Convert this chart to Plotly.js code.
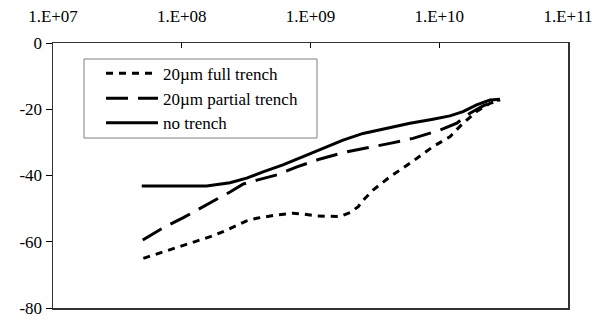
<!DOCTYPE html>
<html><head><meta charset="utf-8">
<script src="https://cdn.plot.ly/plotly-3.0.1.min.js"></script>
<style>html,body{margin:0;padding:0;background:#fff}#chart{width:604px;height:320px}
#warm{position:absolute;left:0;top:0;visibility:hidden;font-family:'Liberation Serif';font-size:17px}</style>
</head><body><div id="warm">1.E+07 20µm full trench</div><div id="chart"></div>
<script>
var xTickVals = [1e7, 1e8, 1e9, 1e10, 1e11];
var xTickText = ["1.E+07", "1.E+08", "1.E+09", "1.E+10", "1.E+11"];
var yTickVals = [0, -20, -40, -60, -80];
var yTickText = ["0", "-20", "-40", "-60", "-80"];

var seriesNames = ["20\u00b5m full trench", "20\u00b5m partial trench", "no trench"];

var fullX = [5.03e7, 7.64e7, 1.12e8, 1.75e8, 2.23e8, 3.19e8, 3.82e8, 5.46e8, 7.31e8, 8.75e8, 1.12e9, 1.69e9, 2.03e9, 2.35e9, 2.50e9, 3.06e9, 4.14e9, 5.93e9, 8.94e9, 1.21e10, 1.53e10, 1.95e10, 2.48e10, 2.96e10];
var fullY = [-65.0, -62.8, -60.7, -58.2, -56.5, -53.7, -52.9, -51.9, -51.4, -51.6, -52.2, -52.4, -51.2, -49.4, -47.9, -44.4, -40.4, -36.3, -31.3, -28.3, -24.2, -20.7, -18.2, -17.2];

var partialX = [4.98e7, 7.15e7, 1.02e8, 1.44e8, 1.88e8, 2.37e8, 2.99e8, 3.84e8, 5.49e8, 7.85e8, 1.19e9, 1.79e9, 2.73e9, 4.14e9, 6.25e9, 1.01e10, 1.37e10, 1.73e10, 2.19e10, 2.79e10, 2.96e10];
var partialY = [-59.5, -55.8, -52.8, -49.5, -47.1, -45.0, -42.6, -41.4, -39.8, -37.4, -35.0, -33.1, -31.8, -30.3, -28.8, -26.3, -24.2, -21.2, -19.0, -17.4, -17.0];

var noX = [4.89e7, 1.56e8, 2.37e8, 3.19e8, 4.28e8, 6.11e8, 8.75e8, 1.25e9, 1.79e9, 2.56e9, 3.91e9, 5.93e9, 8.94e9, 1.21e10, 1.53e10, 1.95e10, 2.48e10, 2.96e10];
var noY = [-43.2, -43.2, -42.2, -40.8, -38.9, -36.8, -34.3, -31.7, -29.3, -27.3, -25.8, -24.2, -23.0, -22.0, -20.7, -18.7, -17.2, -17.0];

var FONT = "Liberation Serif";
var FS = 17;

var traces = [
  {x: fullX, y: fullY, name: seriesNames[0], mode: "lines", legend: "legend",
   line: {color: "#000", width: 3, dash: "7px,6px"}},
  {x: partialX, y: partialY, name: seriesNames[1], mode: "lines", legend: "legend2",
   line: {color: "#000", width: 3, dash: "22px,10px"}},
  {x: noX, y: noY, name: seriesNames[2], mode: "lines", legend: "legend3",
   line: {color: "#000", width: 3}}
];

function legendAt(yc) {
  return {x: 0.0932, y: yc, xanchor: "left", yanchor: "middle",
    bgcolor: "rgba(0,0,0,0)", borderwidth: 0,
    font: {family: FONT, size: FS, color: "#000"}, itemwidth: 52};
}

var layout = {
  width: 604, height: 320,
  margin: {l: 53, r: 36, t: 43, b: 12, pad: 0},
  paper_bgcolor: "#fff", plot_bgcolor: "#fff",
  font: {family: FONT, size: FS, color: "#000"},
  showlegend: true,
  legend: legendAt(0.884),
  legend2: legendAt(0.7895),
  legend3: legendAt(0.697),
  shapes: [{type: "rect", xref: "paper", yref: "paper", x0: 0.0602, x1: 0.5126, y0: 0.6415, y1: 0.9396,
    line: {color: "#808080", width: 1}, fillcolor: "#fff", layer: "below"}],
  xaxis: {type: "log", range: [7, 11], side: "top",
    tickvals: xTickVals, ticktext: xTickText,
    tickfont: {family: FONT, size: FS, color: "#000"},
    ticks: "inside", ticklen: 5, tickwidth: 1, tickcolor: "#000",
    showgrid: false, zeroline: false, showline: true, linecolor: "#333", linewidth: 1.5,
    mirror: true, ticklabelstandoff: 13, fixedrange: true},
  yaxis: {range: [-80, 0], tickvals: yTickVals, ticktext: yTickText,
    tickfont: {family: FONT, size: FS, color: "#000"},
    ticks: "outside", ticklen: 6, tickwidth: 1, tickcolor: "#000",
    showgrid: false, zeroline: false, showline: true, linecolor: "#333", linewidth: 1.5,
    mirror: true, fixedrange: true}
};

Plotly.newPlot("chart", traces, layout, {staticPlot: true, displayModeBar: false});
</script></body></html>
